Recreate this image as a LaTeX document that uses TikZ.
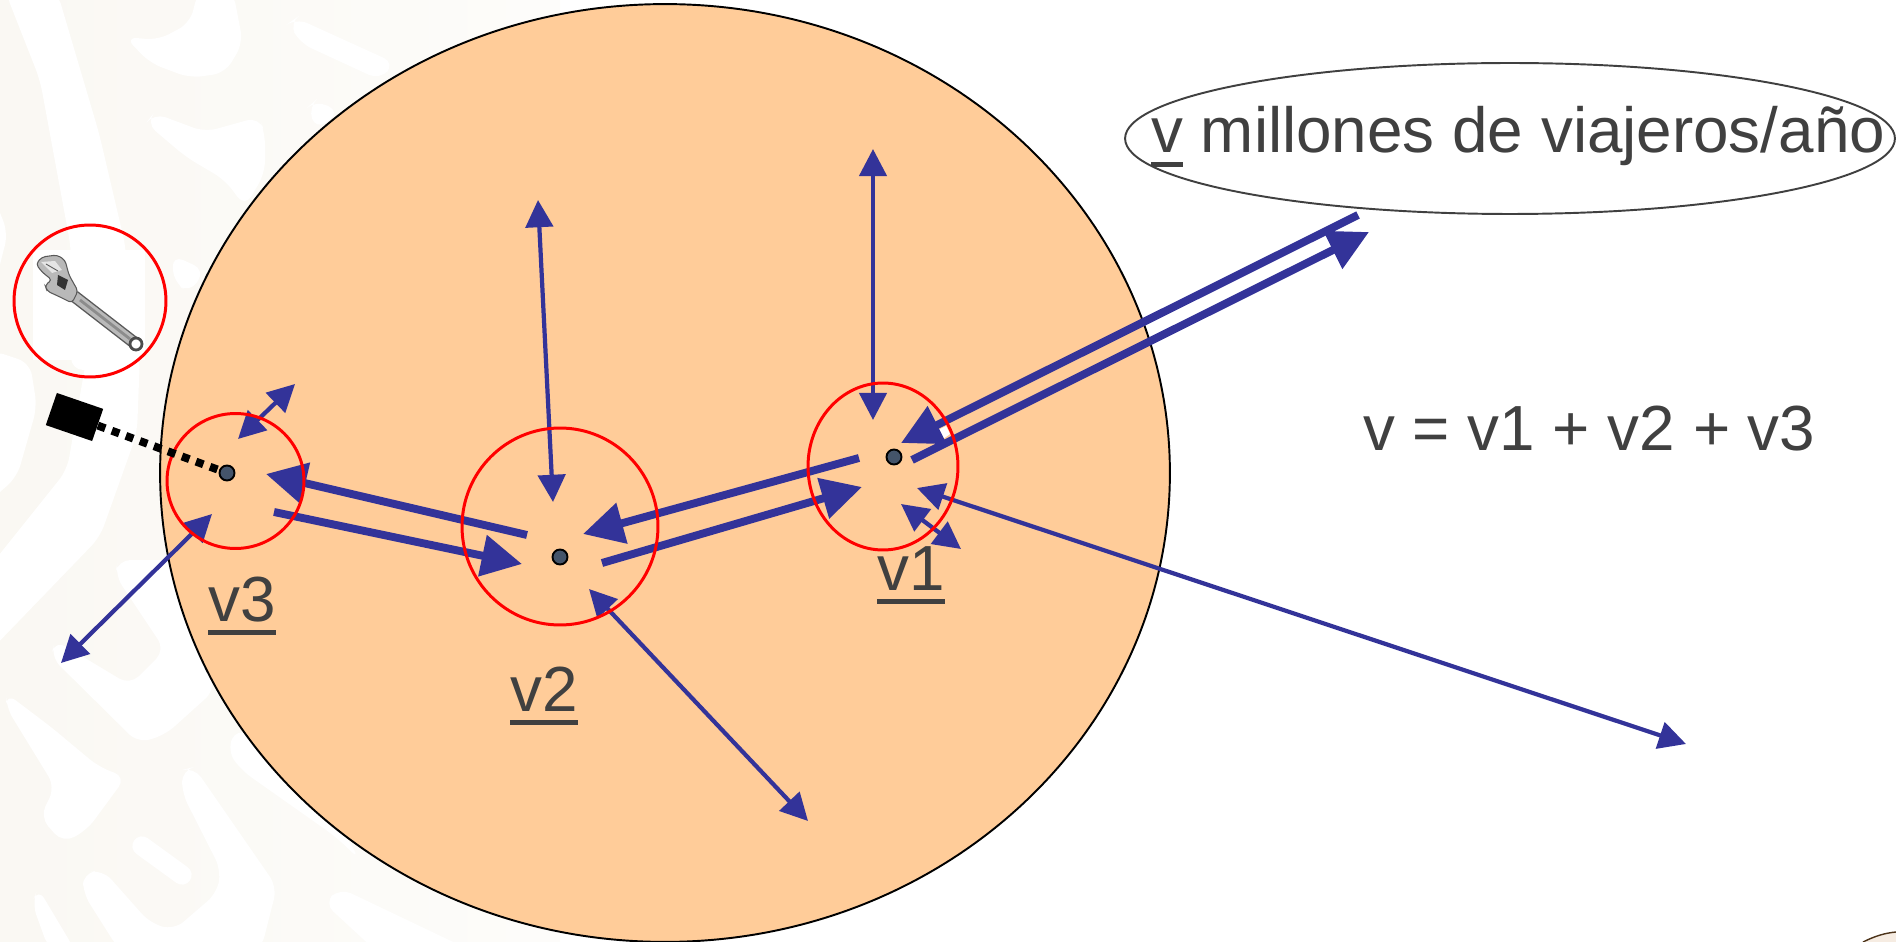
\documentclass[tikz,border=0pt]{standalone}
\usepackage{fontspec}
\setmainfont{Liberation Sans}
\usepackage{tikz}
\usetikzlibrary{shapes.geometric, arrows.meta}
\definecolor{peach}{HTML}{FFCC99}
\definecolor{flowblue}{HTML}{333399}
\definecolor{textgray}{HTML}{404040}
\definecolor{dotslate}{HTML}{44546A}
\definecolor{cream}{HTML}{FAF8F3}
\newcommand{\ultext}[1]{{\setbox0=\hbox{#1}\rlap{\rule[-8pt]{\wd0}{3pt}}\box0}}
\tikzstyle{region} = [ellipse, draw=black, line width=1.1pt, fill=peach, minimum width=20.2cm, minimum height=18.76cm, inner sep=0pt]
\tikzstyle{zone} = [ellipse, draw=red, line width=1.7pt, inner sep=0pt]
\tikzstyle{station} = [circle, draw=black, line width=1.1pt, fill=dotslate, minimum size=0.3cm, inner sep=0pt]
\tikzstyle{caption} = [font=\fontsize{36.3}{40}\selectfont, text=textgray, inner sep=0pt, anchor=base west]
\tikzstyle{flow} = [draw=flowblue, line width=2.4pt, {Triangle[length=15.5pt,width=15.5pt]}-{Triangle[length=15.5pt,width=15.5pt]}]
\tikzstyle{haul} = [draw=flowblue, line width=4.5pt, -{Triangle[length=23pt,width=23pt]}]
\tikzstyle{washout} = [fill=white, draw=none, rounded corners=7pt]
\begin{document}
\begin{tikzpicture}[x=0.02cm, y=-0.02cm]
\useasboundingbox (0,0) rectangle (1896,942);

% Background pattern
\shade [left color=cream, right color=cream!40!white, shading angle=90] (0,0) rectangle (560,942);
\fill [washout] (5,-9) -- (57,-9) -- (99,133) -- (126,248) -- (126,370) -- (71,370) -- (71,248) -- (40,80) -- cycle;
\fill [washout] (-9,350) -- (30,363) -- (37,407) -- (17,477) -- (-9,500) -- cycle;
\fill [washout] (87,355) -- (140,355) -- (137,433) -- (100,537) -- (-9,650) -- (-9,565) -- (67,470) -- cycle;
\fill [washout] (-9,190) -- (8,233) -- (-9,300) -- cycle;
\fill [washout] (118,560) -- (180,560) -- (215,690) -- (165,735) -- (138,743) -- (51,657) -- (55,640) -- (130,685) -- (165,650) -- (115,575) -- cycle;
\fill [washout] (6,693) -- (51,727) -- (99,767) -- (126,777) -- (87,830) -- (63,843) -- (40,817) -- (55,787) -- (6,707) -- cycle;
\draw [white, line width=11pt, line cap=round] (142,846) -- (182,875);
\fill [washout] (83,873) -- (103,870) -- (150,923) -- (174,930) -- (217,893) -- (221,870) -- (182,793) -- (182,770) -- (194,767) -- (277,887) -- (261,950) -- (119,950) -- (83,893) -- cycle;
\fill [washout] (32,903) -- (38,888) -- (75,950) -- (49,950) -- cycle;
\fill [washout] (237,728) -- (227,750) -- (241,770) -- (336,837) -- (360,860) -- (300,760) -- cycle;
\fill [washout] (324,903) -- (340,888) -- (470,950) -- (375,950) -- cycle;
\fill [washout] (125,37) -- (158,40) -- (190,23) -- (198,-9) -- (233,-9) -- (243,43) -- (225,73) -- (190,78) -- (150,63) -- cycle;
\fill [washout] (146,123) -- (154,113) -- (205,132) -- (259,117) -- (265,133) -- (265,173) -- (245,207) -- (225,180) -- (186,157) -- cycle;
\fill [washout] (289,23) -- (296,18) -- (395,63) -- (380,80) -- (300,43) -- cycle;
\fill [washout] (308,107) -- (316,100) -- (340,112) -- (316,130) -- cycle;
\fill [washout] (172,255) -- (205,270) -- (190,293) -- (174,283) -- cycle;

% Corner mark
\fill [brown!15!white] (1863,942) .. controls (1875,936) and (1885,933) .. (1896,932) -- (1896,942) -- cycle;
\draw [brown!40!black, line width=0.8pt] (1863,942) .. controls (1875,936) and (1885,933) .. (1896,932);

% Main region and caption oval
\node (network) [region] at (665,473) {};
\node (passengers) [ellipse, draw=textgray, line width=1.1pt, fill=white, minimum width=15.4cm, minimum height=3.02cm, inner sep=0pt] at (1510,138.5) {};
\fill [white] (938,430) -- (946,426) -- (950,434) -- (943,439) -- cycle;

% Wrench
\fill [white] (33,250) rectangle (145,360);
\draw [black!65, line width=7pt] (74,296) -- (136,344);
\draw [gray!55, line width=5.4pt] (74,296) -- (136,344);
\draw [gray!90, line width=1.6pt] (80,300) -- (130,339);
\filldraw [fill=gray!55, draw=black!65, line width=0.6pt, rounded corners=2pt] (36,264) -- (42,257) -- (57,255) -- (65,260) -- (69,275) -- (78,291) -- (72,303) -- (60,297) -- (47,291) -- (45,285) -- (52,280) -- (42,272) -- cycle;
\fill [gray!20] (41,262) -- (55,261) -- (62,270) -- (52,273) -- cycle;
\draw [black!65, line width=0.5pt] (46,264) -- (58,271);
\fill [black!80] (58,275) -- (68,280) -- (65,290) -- (57,285) -- cycle;
\filldraw [fill=white, draw=black!70, line width=1.6pt] (136,344) circle (6);

% Stations
\node (dotthree) [station] at (227,473) {};
\node (dottwo) [station] at (560,557) {};
\node (dotone) [station] at (894,457) {};

% Arrow ends
\coordinate (upA) at (538,200);
\coordinate (upB) at (553,502);
\coordinate (topA) at (873,149);
\coordinate (topB) at (873,420);
\coordinate (nearA) at (295,384);
\coordinate (nearB) at (238,439);
\coordinate (leftA) at (212,514);
\coordinate (leftB) at (61,663);
\coordinate (lowA) at (589,589);
\coordinate (lowB) at (808,821);
\coordinate (longA) at (917,488);
\coordinate (longB) at (1686,744);
\coordinate (shortA) at (901,504);
\coordinate (shortB) at (961,549);
\coordinate (wbA) at (527,535);
\coordinate (wbB) at (266,474);
\coordinate (ebA) at (274,512);
\coordinate (ebB) at (522,564);
\coordinate (wcA) at (859,458);
\coordinate (wcB) at (583,534);
\coordinate (ecA) at (602,563);
\coordinate (ecB) at (862,487);
\coordinate (inA) at (1358,215);
\coordinate (inB) at (901,443);
\coordinate (outA) at (912,460);
\coordinate (outB) at (1369,232);

% Arrows between stations
\draw [flow] (upA) -- (upB);
\draw [flow] (topA) -- (topB);
\draw [flow] (nearA) -- (nearB);
\draw [flow] (leftA) -- (leftB);
\draw [flow] (lowA) -- (lowB);
\draw [flow] (longA) -- (longB);
\draw [flow] (shortA) -- (shortB);
\draw [haul] (wbA) -- (wbB);
\draw [haul] (ebA) -- (ebB);
\draw [haul] (wcA) -- (wcB);
\draw [haul] (ecA) -- (ecB);
\draw [haul] (inA) -- (inB);
\draw [haul] (outA) -- (outB);

% Zones
\node (zonetool) [zone, minimum width=3.04cm, minimum height=3.04cm] at (90,301) {};
\node (zonethree) [zone, minimum width=2.74cm, minimum height=2.7cm] at (235.5,481) {};
\node (zonetwo) [zone, minimum width=3.92cm, minimum height=3.94cm] at (560,526.5) {};
\node (zoneone) [zone, minimum width=3cm, minimum height=3.34cm] at (883,466.5) {};

% Repair unit
\node (repairunit) [rectangle, fill=black, rotate=-19, minimum width=0.98cm, minimum height=0.68cm, inner sep=0pt] at (74.5,417) {};
\draw [black, line width=4.5pt, dash pattern=on 4.5pt off 4pt] (repairunit) -- (dotthree);

% Labels
\node (labelthree) [caption] at (208,621) {\ultext{v3}};
\node (labeltwo) [caption] at (510,711) {\ultext{v2}};
\node (labelone) [caption] at (877,590) {\ultext{v1}};
\node (labelrate) [caption] at (1151,153) {\ultext{v} millones de viajeros/año};
\node (labelsum) [caption] at (1363,450) {v = v1 + v2 + v3};

\end{tikzpicture}
\end{document}
